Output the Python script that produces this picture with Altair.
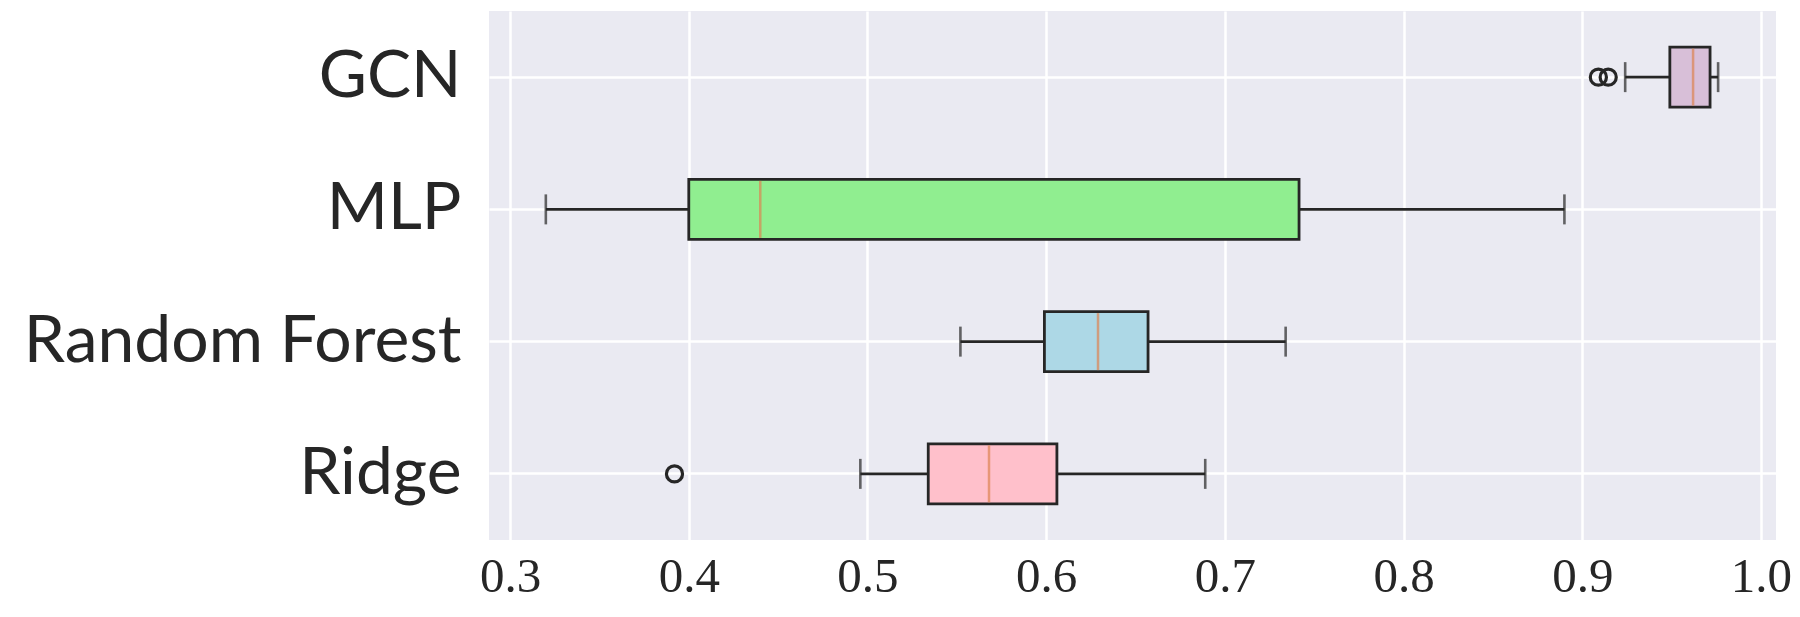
import altair as alt
import pandas as pd

categories = ["GCN", "MLP", "Random Forest", "Ridge"]
whisker_low = [0.924, 0.320, 0.552, 0.496]
q1 = [0.949, 0.400, 0.599, 0.534]
median = [0.962, 0.440, 0.629, 0.568]
q3 = [0.9715, 0.7415, 0.657, 0.606]
whisker_high = [0.976, 0.890, 0.734, 0.689]
fills = ["#d8bfd8", "#90ee90", "#add8e6", "#ffc0cb"]

outlier_models = ["GCN", "GCN", "Ridge"]
outlier_values = [0.909, 0.9145, 0.392]

tick_values = [0.3, 0.4, 0.5, 0.6, 0.7, 0.8, 0.9, 1.0]

df = pd.DataFrame({
    "model": categories,
    "lo": whisker_low,
    "q1": q1,
    "med": median,
    "q3": q3,
    "hi": whisker_high,
})
out_df = pd.DataFrame({"model": outlier_models, "value": outlier_values})

xscale = alt.Scale(domain=[0.2882, 1.0084], nice=False, zero=False)
yenc = alt.Y(
    "model:N",
    sort=categories,
    scale=alt.Scale(paddingInner=0, paddingOuter=0),
    axis=alt.Axis(
        title=None,
        labelFont="Lato",
        labelFontSize=66,
        labelColor="#262626",
        labelPadding=28,
        labelLimit=0,
        domain=False,
        ticks=False,
        grid=True,
        gridColor="white",
        gridWidth=2.5,
        bandPosition=0.5,
        labelAlign="right",
        labelBaseline="middle",
    ),
)
xaxis = alt.Axis(
    title=None,
    values=tick_values,
    format=".1f",
    labelFont="Liberation Serif",
    labelFontSize=49,
    labelColor="#262626",
    labelPadding=12,
    domain=False,
    ticks=False,
    grid=True,
    gridColor="white",
    gridWidth=2.5,
)

base = alt.Chart(df).encode(y=yenc)

line_col = "#262626"
whisker = base.mark_rule(color=line_col, strokeWidth=2.6).encode(
    x=alt.X("lo:Q", scale=xscale, axis=xaxis), x2="hi:Q"
)
cap_lo = base.mark_tick(color=line_col, size=30, thickness=2.6).encode(
    x=alt.X("lo:Q", scale=xscale)
)
cap_hi = base.mark_tick(color=line_col, size=30, thickness=2.6).encode(
    x=alt.X("hi:Q", scale=xscale)
)
box = base.mark_bar(size=60, stroke=line_col, strokeWidth=2.8).encode(
    x=alt.X("q1:Q", scale=xscale),
    x2="q3:Q",
    color=alt.Color("model:N", scale=alt.Scale(domain=categories, range=fills), legend=None),
)
med = base.mark_tick(color="#dd8452", size=57, thickness=2.5).encode(
    x=alt.X("med:Q", scale=xscale)
)
outl = alt.Chart(out_df).mark_point(
    shape="circle", filled=False, size=260, strokeWidth=3.2, color=line_col, opacity=1
).encode(x=alt.X("value:Q", scale=xscale), y=alt.Y("model:N", sort=categories))

chart = (
    alt.layer(whisker, cap_lo, cap_hi, box, med, outl)
    .properties(
        width=1287,
        height=529,
        autosize=alt.AutoSizeParams(type="none"),
        padding={"left": 481, "top": 3, "right": 15, "bottom": 66},
        background="white",
    )
    .configure_view(fill="#eaeaf2", stroke=None)
)

chart.save("out.html", embed_options={"renderer": "svg", "actions": False})
